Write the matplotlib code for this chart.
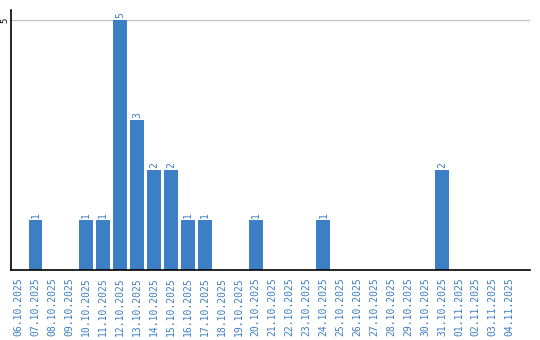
import matplotlib
matplotlib.use("Agg")
from matplotlib import pyplot as plt

dates = ["06.10.2025", "07.10.2025", "08.10.2025", "09.10.2025", "10.10.2025",
         "11.10.2025", "12.10.2025", "13.10.2025", "14.10.2025", "15.10.2025",
         "16.10.2025", "17.10.2025", "18.10.2025", "19.10.2025", "20.10.2025",
         "21.10.2025", "22.10.2025", "23.10.2025", "24.10.2025", "25.10.2025",
         "26.10.2025", "27.10.2025", "28.10.2025", "29.10.2025", "30.10.2025",
         "31.10.2025", "01.11.2025", "02.11.2025", "03.11.2025", "04.11.2025"]
counts = [0, 1, 0, 0, 1, 1, 5, 3, 2, 2, 1, 1, 0, 0, 1,
          0, 0, 0, 1, 0, 0, 0, 0, 0, 0, 2, 0, 0, 0, 0]

blue = '#3d7fc4'

fig = plt.figure(figsize=(5.4, 3.4), dpi=100)
ax = fig.add_axes([11 / 540, 70 / 340, 519 / 540, 260 / 340])

x = list(range(len(dates)))
bars = ax.bar(x, counts, width=0.82, color=blue, zorder=2)

for xi, c in zip(x, counts):
	if c > 0:
		ax.text(xi, c + 0.05, str(c), rotation=90, ha='center', va='bottom',
				color=blue, family='DejaVu Sans Mono', fontsize=7)

ax.axhline(5, color='#c8c8c8', lw=1, zorder=1)

ax.set_xlim(-0.45, 30.2)
ax.set_ylim(0, 5.2)
ax.set_xticks(x)
ax.set_xticklabels(dates, rotation=90, color=blue, family='DejaVu Sans Mono', fontsize=7)
ax.tick_params(axis='x', length=0, pad=5)
ax.set_yticks([5])
ax.set_yticklabels(['5'], rotation=90, va='center', family='DejaVu Sans Mono', fontsize=6.5)
ax.tick_params(axis='y', length=0, pad=1)

ax.spines['top'].set_visible(False)
ax.spines['right'].set_visible(False)
ax.spines['left'].set_linewidth(1.2)
ax.spines['bottom'].set_linewidth(1.2)

fig.savefig("out.png", dpi=100)
